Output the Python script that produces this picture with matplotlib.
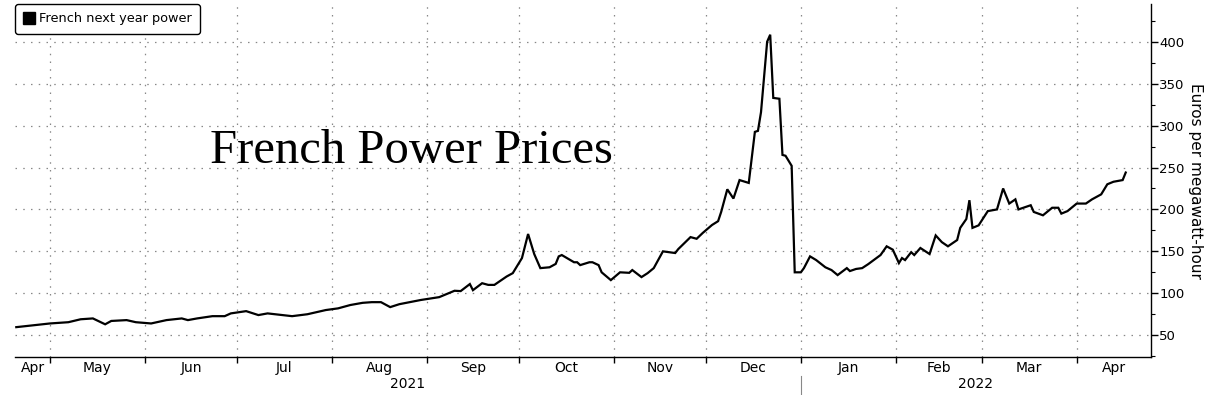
import matplotlib
matplotlib.use("Agg")
import matplotlib.pyplot as plt
import matplotlib.ticker as mticker
import matplotlib.transforms as mtransforms
from matplotlib.lines import Line2D
import pandas as pd

# French next year power, euros per MWh
dates = [
    "2021-04-20", "2021-05-01", "2021-05-07", "2021-05-11", "2021-05-15", "2021-05-19",
    "2021-05-21", "2021-05-26", "2021-05-29", "2021-06-03", "2021-06-08", "2021-06-13",
    "2021-06-15", "2021-06-18", "2021-06-23", "2021-06-27", "2021-06-29", "2021-07-04",
    "2021-07-08", "2021-07-11", "2021-07-19", "2021-07-24", "2021-07-30", "2021-08-03",
    "2021-08-07", "2021-08-11", "2021-08-14", "2021-08-17", "2021-08-20", "2021-08-23",
    "2021-08-30", "2021-09-05", "2021-09-08", "2021-09-10", "2021-09-12", "2021-09-15",
    "2021-09-16", "2021-09-19", "2021-09-21", "2021-09-23", "2021-09-27", "2021-09-29",
    "2021-10-02", "2021-10-04", "2021-10-06", "2021-10-08", "2021-10-11", "2021-10-13",
    "2021-10-14", "2021-10-15", "2021-10-19", "2021-10-20", "2021-10-21", "2021-10-24",
    "2021-10-25", "2021-10-27", "2021-10-28", "2021-10-31", "2021-11-03", "2021-11-06",
    "2021-11-07", "2021-11-10", "2021-11-12", "2021-11-14", "2021-11-17", "2021-11-21",
    "2021-11-22", "2021-11-25", "2021-11-26", "2021-11-28", "2021-11-30", "2021-12-03",
    "2021-12-05", "2021-12-06", "2021-12-08", "2021-12-10", "2021-12-12", "2021-12-15",
    "2021-12-17", "2021-12-18", "2021-12-19", "2021-12-21", "2021-12-22", "2021-12-23",
    "2021-12-25", "2021-12-26", "2021-12-27", "2021-12-29", "2021-12-30", "2022-01-01",
    "2022-01-02", "2022-01-04", "2022-01-06", "2022-01-09", "2022-01-11", "2022-01-13",
    "2022-01-16", "2022-01-17", "2022-01-19", "2022-01-21", "2022-01-23", "2022-01-26",
    "2022-01-27", "2022-01-29", "2022-01-31", "2022-02-02", "2022-02-03", "2022-02-04",
    "2022-02-06", "2022-02-07", "2022-02-09", "2022-02-12", "2022-02-14", "2022-02-16",
    "2022-02-18", "2022-02-21", "2022-02-22", "2022-02-24", "2022-02-25", "2022-02-26",
    "2022-02-28", "2022-03-03", "2022-03-06", "2022-03-08", "2022-03-10", "2022-03-12",
    "2022-03-13", "2022-03-17", "2022-03-18", "2022-03-21", "2022-03-24", "2022-03-26",
    "2022-03-27", "2022-03-29", "2022-04-01", "2022-04-04", "2022-04-06", "2022-04-09",
    "2022-04-11", "2022-04-13", "2022-04-16", "2022-04-17",
]
prices = [
    59.6, 64, 65.5, 69, 70, 63,
    67, 68, 65.5, 64, 68, 70,
    68, 70, 72.7, 72.7, 76, 78.7,
    74, 76, 72.7, 75, 80, 82,
    86, 88.6, 89.4, 89.4, 83.5, 87,
    92, 95.4, 100, 103, 102.6, 111,
    103.7, 112, 110, 110, 120, 124,
    142, 170.7, 146.8, 130, 131, 135,
    144, 145.6, 137, 137, 133.6, 137,
    137, 133.6, 125, 115.7, 125, 124.4,
    127.7, 119.3, 124, 130, 150, 148,
    152.7, 163.5, 167, 165, 172, 181.4,
    186, 197, 224, 213, 235, 231.6,
    292.5, 293.7, 316, 400, 408.4, 333,
    332, 265, 264, 252, 125, 125,
    130, 144, 139.6, 131, 127.7, 121.7,
    130, 126.5, 129, 130, 134.8, 143,
    145.6, 156, 152, 136, 142, 139.6,
    149, 145.6, 154, 146.8, 169, 161,
    156, 163.5, 178, 188.6, 211, 178,
    181, 198, 200, 225, 207, 212,
    200, 205, 197, 193, 202, 202,
    195, 198, 207, 207, 212, 218,
    230, 233, 235, 244,
]
series_name = "French next year power"
chart_title = "French Power Prices"
y_label = "Euros per megawatt-hour"
y_ticks = [50, 100, 150, 200, 250, 300, 350, 400]

x_start = pd.Timestamp("2021-04-19 14:00")
x_end = pd.Timestamp("2022-04-25 06:00")

tick_font = ["Liberation Sans Narrow", "DejaVu Sans"]

fig = plt.figure(figsize=(12.05, 3.95), dpi=100)
ax = fig.add_axes([15 / 1205, 1 - 357 / 395, (1151 - 15) / 1205, (357 - 4) / 395])

x = pd.to_datetime(dates)
ax.plot(x, prices, color="black", linewidth=1.6, solid_joinstyle="miter")

ax.set_xlim(x_start, x_end)
ax.set_ylim(24, 445)

# spines
for side in ["left", "top"]:
    ax.spines[side].set_visible(False)
for side in ["right", "bottom"]:
    ax.spines[side].set_color("black")
    ax.spines[side].set_linewidth(1.0)

# y axis on the right
ax.yaxis.tick_right()
ax.yaxis.set_label_position("right")
ax.set_yticks(y_ticks)
ax.yaxis.set_minor_locator(mticker.MultipleLocator(25))
ax.tick_params(axis="y", which="major", direction="out", length=5, width=1,
               pad=1, labelsize=9.5)
ax.tick_params(axis="y", which="minor", direction="out", length=3, width=0.8)
for lab in ax.get_yticklabels():
    lab.set_family(tick_font)
ax.set_ylabel(y_label, rotation=-90, labelpad=13, fontsize=11)

# x axis: tick marks at month starts, labels centred in each visible month
month_starts = pd.date_range("2021-05-01", "2022-04-01", freq="MS")
ax.set_xticks(month_starts)
ax.set_xticklabels([])
ax.tick_params(axis="x", which="major", direction="out", length=4, width=1)
edges = [x_start] + list(month_starts) + [x_end]
mids, names = [], []
for a, b in zip(edges[:-1], edges[1:]):
    mids.append(a + (b - a) / 2)
    names.append(a.strftime("%b") if a != x_start else "Apr")
ax.set_xticks(mids, minor=True)
ax.set_xticklabels(names, minor=True, family=tick_font, fontsize=10)
ax.tick_params(axis="x", which="minor", length=0, pad=3)

# years
trans = mtransforms.blended_transform_factory(ax.transData, ax.transAxes)
year_break = pd.Timestamp("2022-01-01")
for lo, hi, yr in [(x_start, year_break, "2021"), (year_break, x_end, "2022")]:
    ax.text(lo + (hi - lo) / 2, -0.058, yr, transform=trans, ha="center", va="top",
            family=tick_font, fontsize=10)
ax.add_line(Line2D([year_break, year_break], [-0.053, -0.115], transform=trans,
                   color="#888888", linewidth=0.8, clip_on=False))

# grid
ax.grid(True, which="major", axis="both", color="#888888", linewidth=0.9,
        linestyle=(0, (1.2, 5)))

# legend
handle = Line2D([], [], marker="s", color="black", linestyle="none", markersize=8.5)
leg = ax.legend([handle], [series_name], loc="upper left", bbox_to_anchor=(0.0, 1.0),
                borderaxespad=0.0, frameon=True, fancybox=True, fontsize=9.3,
                handlelength=0.8, handletextpad=0.4, borderpad=0.65)
leg.get_frame().set_edgecolor("black")
leg.get_frame().set_linewidth(1.0)
leg.get_frame().set_alpha(1)

# title
fig.text(210 / 1205, 1 - 163 / 395, chart_title, family="Liberation Serif",
         fontsize=35, ha="left", va="baseline")

fig.savefig("out.png", dpi=100)
